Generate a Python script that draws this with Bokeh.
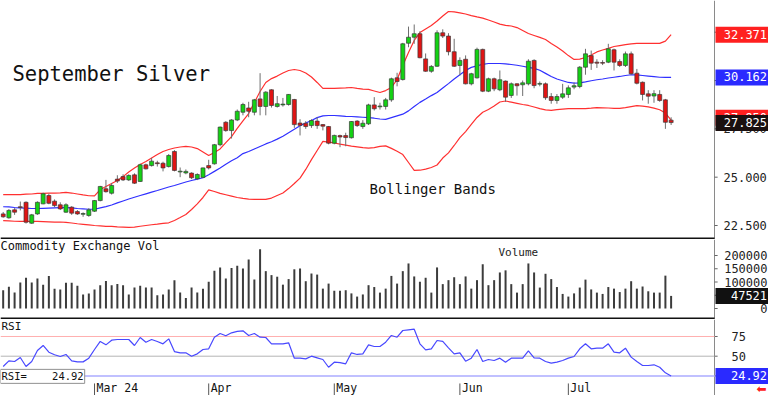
from bokeh.plotting import figure
from bokeh.models import Range1d, Label, ColumnDataSource
from bokeh.layouts import column
from bokeh.embed import file_html
from bokeh.resources import INLINE
from bokeh.core.properties import value

MONO = "DejaVu Sans Mono"
NB = "\u00a0"

# ---------------- data ----------------
price_open = [
    23.10, 22.90, 23.31, 23.47, 23.70, 22.62, 23.10, 23.62, 24.05, 23.76,
    23.57, 23.19, 23.45, 23.22, 23.08, 23.02, 23.24, 23.79, 24.40, 24.17,
    24.90, 25.03, 24.86, 25.12, 24.78, 25.64, 25.60, 25.74, 25.72, 25.55,
    26.33, 25.27, 25.22, 25.21, 24.92, 24.99, 25.60, 25.69, 26.68, 27.84,
    27.41, 27.96, 28.36, 28.58, 28.36, 29.05, 28.66, 29.52, 28.66, 28.74,
    28.76, 29.02, 27.80, 27.79, 27.67, 27.90, 27.72, 27.62, 26.76, 27.15,
    27.15, 27.04, 27.90, 27.62, 27.76, 28.74, 28.64, 28.66, 29.00, 30.14,
    30.05, 31.93, 32.24, 32.42, 31.12, 30.48, 30.74, 32.47, 32.30, 31.49,
    30.78, 31.10, 29.83, 30.14, 31.61, 29.45, 30.09, 29.52, 29.97, 29.23,
    29.83, 29.78, 29.83, 31.04, 29.81, 29.83, 29.17, 28.97, 29.14, 29.28,
    29.66, 29.69, 30.69, 31.29, 30.95, 30.93, 30.95, 31.59, 30.98, 30.78,
    31.38, 30.38, 29.91, 29.31, 29.20, 29.28, 29.00, 27.95,
]
price_high = [
    23.20, 23.35, 23.40, 23.74, 23.75, 23.10, 23.75, 24.20, 24.15, 23.85,
    23.70, 23.65, 23.50, 23.30, 23.18, 23.40, 23.82, 24.55, 24.86, 24.70,
    25.10, 25.15, 25.15, 25.20, 25.70, 25.70, 26.00, 25.85, 25.80, 26.20,
    26.40, 25.50, 25.40, 25.25, 25.20, 25.50, 25.90, 26.72, 27.62, 27.90,
    28.00, 28.50, 28.85, 28.90, 29.05, 30.38, 29.45, 29.55, 29.20, 29.10,
    29.30, 29.05, 28.00, 27.90, 28.00, 28.10, 27.75, 27.65, 27.20, 27.20,
    27.30, 27.90, 27.95, 27.95, 28.80, 29.14, 28.85, 29.10, 30.15, 30.40,
    31.95, 32.79, 32.90, 32.55, 31.40, 30.80, 32.60, 32.65, 32.45, 32.16,
    31.20, 31.30, 30.40, 31.70, 31.65, 30.15, 30.15, 30.52, 30.00, 29.90,
    29.86, 30.00, 31.10, 31.10, 29.95, 29.90, 29.35, 29.30, 29.83, 29.75,
    29.90, 30.75, 31.64, 31.55, 31.10, 31.05, 31.90, 31.65, 31.10, 31.50,
    31.50, 30.60, 29.95, 29.50, 29.50, 29.50, 29.05, 28.10,
]
price_low = [
    22.90, 22.85, 23.05, 23.28, 22.60, 22.58, 23.05, 23.60, 23.60, 23.45,
    23.30, 23.15, 23.05, 23.05, 22.95, 22.95, 23.20, 23.75, 24.20, 24.10,
    24.70, 24.80, 24.80, 24.65, 24.75, 25.40, 25.55, 25.55, 25.30, 25.50,
    25.30, 25.00, 25.15, 24.90, 24.85, 24.95, 25.40, 25.65, 26.60, 27.35,
    27.00, 27.90, 28.20, 28.10, 28.20, 28.20, 28.20, 28.60, 28.60, 28.65,
    28.70, 27.55, 27.16, 27.50, 27.55, 27.50, 27.42, 26.70, 26.70, 26.55,
    26.60, 27.00, 27.60, 27.50, 27.70, 28.45, 28.50, 28.50, 28.90, 29.70,
    30.00, 31.72, 31.90, 31.15, 30.45, 30.40, 30.70, 32.20, 31.30, 30.70,
    30.26, 29.80, 29.75, 30.10, 29.40, 29.40, 29.45, 29.45, 28.90, 29.10,
    29.22, 29.20, 29.75, 29.60, 29.70, 29.00, 28.80, 28.80, 29.05, 29.10,
    29.55, 29.60, 30.30, 30.55, 30.65, 30.80, 30.90, 30.52, 30.70, 30.70,
    30.30, 29.80, 28.97, 28.80, 28.85, 28.90, 27.50, 27.70,
]
price_close = [
    22.95, 23.28, 23.19, 23.43, 22.67, 23.05, 23.70, 24.14, 23.65, 23.53,
    23.36, 23.57, 23.14, 23.10, 23.12, 23.31, 23.79, 24.52, 24.25, 24.57,
    24.80, 24.86, 25.09, 24.69, 25.64, 25.43, 25.83, 25.70, 25.48, 26.12,
    25.35, 25.31, 25.30, 24.97, 25.14, 25.48, 25.48, 26.68, 27.59, 27.41,
    27.96, 28.41, 28.76, 28.41, 29.00, 28.66, 29.40, 28.71, 28.80, 28.78,
    29.28, 27.72, 27.68, 27.62, 27.93, 27.67, 27.64, 26.76, 27.16, 27.08,
    27.05, 27.88, 27.67, 27.79, 28.74, 28.54, 28.68, 29.00, 30.09, 29.95,
    31.90, 32.24, 32.42, 31.18, 30.48, 30.73, 32.47, 32.30, 31.49, 30.74,
    31.04, 29.83, 30.35, 31.61, 29.45, 30.09, 29.57, 30.04, 29.14, 29.83,
    29.73, 29.88, 31.00, 29.74, 29.85, 29.11, 28.97, 29.17, 29.31, 29.62,
    29.73, 30.69, 31.38, 30.90, 30.90, 30.90, 31.64, 30.95, 30.78, 31.38,
    30.35, 29.86, 29.28, 29.19, 29.32, 28.97, 27.84, 27.825,
]
bb_upper = [
    24.10, 24.10, 24.10, 24.10, 24.12, 24.13, 24.16, 24.16, 24.17, 24.18,
    24.19, 24.21, 24.18, 24.13, 24.08, 24.04, 24.03, 24.36, 24.52, 24.67,
    24.83, 25.03, 25.27, 25.47, 25.66, 25.81, 25.99, 26.17, 26.33, 26.43,
    26.51, 26.56, 26.59, 26.56, 26.48, 26.30, 26.12, 26.28, 26.46, 26.79,
    27.10, 27.52, 27.91, 28.29, 28.86, 29.43, 29.90, 30.10, 30.23, 30.39,
    30.52, 30.57, 30.52, 30.39, 30.18, 29.90, 29.59, 29.59, 29.59, 29.61,
    29.62, 29.64, 29.59, 29.56, 29.54, 29.46, 29.38, 29.48, 29.64, 30.05,
    30.78, 31.45, 32.07, 32.48, 32.67, 32.85, 33.08, 33.34, 33.57, 33.55,
    33.50, 33.44, 33.36, 33.29, 33.23, 33.13, 33.03, 32.92, 32.85, 32.82,
    32.74, 32.59, 32.43, 32.33, 32.23, 32.12, 31.92, 31.73, 31.53, 31.29,
    31.09, 31.11, 31.19, 31.32, 31.48, 31.58, 31.66, 31.76, 31.81, 31.86,
    31.90, 31.92, 31.92, 31.92, 31.92, 31.92, 32.04, 32.371,
]
bb_middle = [
    23.47, 23.46, 23.43, 23.41, 23.40, 23.38, 23.38, 23.39, 23.40, 23.41,
    23.42, 23.43, 23.41, 23.38, 23.36, 23.34, 23.34, 23.41, 23.48, 23.56,
    23.67, 23.77, 23.87, 23.96, 24.05, 24.14, 24.23, 24.31, 24.40, 24.49,
    24.57, 24.66, 24.75, 24.83, 24.90, 24.97, 25.13, 25.30, 25.48, 25.67,
    25.85, 26.01, 26.22, 26.33, 26.46, 26.59, 26.72, 26.83, 26.97, 27.12,
    27.30, 27.48, 27.66, 27.80, 27.93, 28.08, 28.17, 28.19, 28.19, 28.17,
    28.15, 28.14, 28.12, 28.10, 28.08, 28.05, 28.01, 27.99, 28.08, 28.17,
    28.26, 28.43, 28.66, 28.87, 29.04, 29.22, 29.38, 29.61, 29.84, 30.08,
    30.30, 30.52, 30.68, 30.76, 30.84, 30.88, 30.88, 30.88, 30.86, 30.83,
    30.79, 30.74, 30.68, 30.63, 30.53, 30.37, 30.21, 30.08, 29.99, 29.90,
    29.87, 29.88, 29.93, 29.99, 30.04, 30.08, 30.13, 30.17, 30.21, 30.26,
    30.30, 30.29, 30.26, 30.23, 30.20, 30.17, 30.16, 30.162,
]
bb_lower = [
    22.75, 22.74, 22.72, 22.71, 22.71, 22.71, 22.71, 22.70, 22.69, 22.68,
    22.68, 22.66, 22.63, 22.59, 22.56, 22.53, 22.50, 22.48, 22.46, 22.45,
    22.43, 22.42, 22.40, 22.42, 22.46, 22.50, 22.54, 22.57, 22.61, 22.64,
    22.76, 22.91, 23.07, 23.33, 23.62, 23.95, 24.34, 24.26, 24.16, 24.09,
    24.02, 23.95, 23.90, 23.86, 23.85, 23.85, 23.85, 23.92, 24.05, 24.18,
    24.41, 24.67, 24.95, 25.40, 25.91, 26.38, 26.85, 26.81, 26.77, 26.71,
    26.66, 26.61, 26.57, 26.53, 26.50, 26.53, 26.59, 26.62, 26.49, 26.34,
    26.17, 25.76, 25.35, 25.36, 25.42, 25.50, 25.63, 25.99, 26.26, 26.64,
    27.05, 27.36, 27.73, 28.09, 28.36, 28.50, 28.68, 28.89, 28.94, 28.88,
    28.82, 28.76, 28.71, 28.63, 28.55, 28.48, 28.46, 28.49, 28.52, 28.55,
    28.55, 28.55, 28.55, 28.57, 28.60, 28.59, 28.58, 28.56, 28.56, 28.60,
    28.65, 28.70, 28.68, 28.64, 28.57, 28.49, 28.32, 27.95,
]
volume = [
    69000, 82000, 60000, 98000, 116000, 98000, 113000, 90000, 123000, 75000,
    72000, 97000, 97000, 86000, 53000, 57000, 72000, 88000, 104000, 88000,
    92000, 88000, 53000, 79000, 86000, 79000, 79000, 50000, 53000, 72000,
    107000, 60000, 40000, 79000, 60000, 75000, 101000, 142000, 155000, 113000,
    153000, 161000, 151000, 185000, 109000, 224000, 141000, 126000, 120000, 90000,
    111000, 148000, 151000, 103000, 132000, 128000, 75000, 94000, 67000, 67000,
    69000, 57000, 45000, 53000, 88000, 81000, 60000, 75000, 123000, 94000,
    141000, 170000, 121000, 101000, 116000, 60000, 155000, 92000, 107000, 118000,
    92000, 121000, 75000, 107000, 167000, 88000, 107000, 136000, 144000, 92000,
    60000, 92000, 170000, 136000, 79000, 131000, 111000, 81000, 55000, 45000,
    57000, 79000, 109000, 72000, 60000, 55000, 81000, 75000, 62000, 75000,
    103000, 75000, 83000, 65000, 60000, 60000, 124000, 47521,
]
rsi = [
    36.9, 44.1, 43.3, 48.3, 36.9, 43.3, 57.2, 63.6, 55.1, 51.8,
    49.6, 52.2, 44.1, 42.8, 42.8, 47.5, 58.5, 68.7, 64.4, 70.3,
    71.2, 71.2, 71.2, 63.6, 73.7, 67.8, 71.2, 68.7, 65.7, 72.0,
    55.9, 54.3, 54.3, 50.0, 53.0, 58.5, 59.4, 74.1, 78.8, 75.9,
    79.7, 81.4, 82.2, 76.3, 78.8, 74.1, 73.7, 65.7, 65.7, 65.7,
    67.0, 47.5, 47.5, 46.6, 50.0, 47.9, 45.8, 36.0, 42.4, 41.9,
    40.3, 54.3, 52.2, 53.0, 64.4, 62.3, 62.3, 67.8, 76.3, 74.1,
    82.6, 83.5, 84.3, 65.7, 58.1, 59.4, 69.9, 68.7, 60.6, 53.0,
    54.3, 43.7, 47.5, 58.5, 43.3, 45.8, 44.5, 47.5, 42.4, 47.5,
    47.5, 47.5, 56.8, 47.9, 47.5, 43.3, 41.2, 42.4, 44.5, 47.5,
    49.6, 59.4, 65.7, 59.4, 60.2, 60.2, 65.7, 55.1, 54.3, 60.2,
    48.8, 43.3, 38.2, 38.2, 39.1, 36.0, 28.9, 24.92,
]
month_labels = ["Mar 24", "Apr", "May", "Jun", "Jul"]
month_index = [16, 36, 58, 80, 99]
price_ticks = [22.5, 25.0, 27.5, 30.0, 32.5]
volume_ticks = [0, 50000, 100000, 150000, 200000]
rsi_ticks = [25, 50, 75]

# ---------------- layout ----------------
W = 768
n = len(price_close)
idx = list(range(n))
X0 = -0.47          # left edge of the chart area
XA = 124.6          # position of the right-hand scale line
xr = Range1d(X0, X0 + (XA - X0) * W / 714.0)
TICK = 0.55         # tick mark length in x units


def make_fig(h, yr):
    p = figure(frame_width=W, frame_height=h, x_range=xr, y_range=yr,
               x_axis_location=None, y_axis_location=None,
               toolbar_location=None, tools="", output_backend="svg",
               min_border_left=0, min_border_right=0,
               min_border_top=0, min_border_bottom=0,
               background_fill_color="white", border_fill_color="white")
    p.grid.visible = False
    p.outline_line_color = None
    p.segment(x0=[XA], y0=[yr.start], x1=[XA], y1=[yr.end], line_color="#8a8a8a", line_width=1)
    return p


def scale(p, ticks, labels, x_off, align):
    p.segment(x0=[XA] * len(ticks), y0=ticks, x1=[XA + TICK] * len(ticks), y1=ticks,
              line_color="#666666", line_width=1)
    p.text(x=[XA] * len(ticks), y=ticks, text=labels, x_offset=x_off,
           text_font=value(MONO), text_font_size="12px", text_color="#222222",
           text_baseline="middle", text_align=align)


def hline(p, y, color, width):
    p.segment(x0=[X0], y0=[y], x1=[XA], y1=[y], line_color=color, line_width=width)


def box(p, y, text, bg, fg="white"):
    p.add_layout(Label(x=XA, y=y, x_offset=1, text=text, text_font=MONO,
                       text_font_size="12px", text_color=fg, text_baseline="middle",
                       background_fill_color=bg, padding=1))


# ---- price panel ----
pr = Range1d(21.776, 34.14)
p1 = make_fig(239, pr)
scale(p1, price_ticks, ["%.3f" % t for t in price_ticks], 9, "left")
p1.line(idx, bb_upper, line_color="#ff3030", line_width=1.2)
p1.line(idx, bb_lower, line_color="#ff3030", line_width=1.2)
p1.line(idx, bb_middle, line_color="#3030ff", line_width=1.2)

csrc = ColumnDataSource(dict(
    x=idx, l=price_low, h=price_high,
    top=[max(o, c) for o, c in zip(price_open, price_close)],
    bot=[min(o, c) for o, c in zip(price_open, price_close)],
    col=["#14d214" if c >= o else "#e01414" for o, c in zip(price_open, price_close)],
))
p1.segment(x0="x", y0="l", x1="x", y1="h", source=csrc, line_color="#6e6e6e", line_width=1)
p1.vbar(x="x", top="top", bottom="bot", width=0.7, source=csrc,
        fill_color="col", line_color="#3a3a3a", line_width=0.7)
hline(p1, 21.827, "#111111", 2)

p1.add_layout(Label(x=12, x_units="screen", y=30.36, text="September Silver",
                    text_font=MONO, text_font_size="20.5px", text_color="#111111",
                    text_baseline="middle"))
p1.add_layout(Label(x=369, x_units="screen", y=24.41, text="Bollinger Bands",
                    text_font=MONO, text_font_size="14px", text_color="#111111",
                    text_baseline="middle"))
box(p1, bb_upper[-1], NB + "%.3f" % bb_upper[-1], "#ff2020")
box(p1, bb_middle[-1], NB + "%.3f" % bb_middle[-1], "#2a2aff")
box(p1, bb_lower[-1] + 0.12, NB + "%.3f" % bb_lower[-1], "#ff2020")
box(p1, price_close[-1] - 0.02, NB + "%.3f" % price_close[-1], "#1a1010")

# ---- volume panel ----
vr = Range1d(-41500, 260400)
p2 = make_fig(80, vr)
scale(p2, volume_ticks, ["%d" % t for t in volume_ticks], 53, "right")
p2.segment(x0=idx, y0=[0] * n, x1=idx, y1=volume, line_color="#3c3c3c", line_width=2)
hline(p2, -37740, "#111111", 2)
p2.add_layout(Label(x=0, x_units="screen", y=234000, text="Commodity Exchange Vol",
                    text_font=MONO, text_font_size="12px", text_color="#111111",
                    text_baseline="middle"))
p2.add_layout(Label(x=498, x_units="screen", y=211000, text="Volume",
                    text_font=MONO, text_font_size="11px", text_color="#222222",
                    text_baseline="middle"))
box(p2, volume[-1], NB * 2 + "%d" % volume[-1], "#111111")

# ---- RSI panel (with date row) ----
rr = Range1d(0.13, 96.57)
p3 = make_fig(76, rr)
scale(p3, rsi_ticks, ["%d" % t for t in rsi_ticks], 17, "left")
hline(p3, 75, "#ffb0b0", 1)
hline(p3, 50, "#b4b4b4", 1)
hline(p3, rsi[-1], "#c0c0ff", 2)
p3.line(idx, rsi, line_color="#4848ff", line_width=1.2)
p3.segment(x0=month_index, y0=[0.13] * len(month_index), x1=month_index,
           y1=[15.4] * len(month_index), line_color="#555555", line_width=1)
p3.text(x=month_index, y=[9.2] * len(month_index), text=month_labels, x_offset=2,
        text_font=value(MONO), text_font_size="11.5px", text_color="#111111",
        text_baseline="middle", text_align="left")
p3.add_layout(Label(x=1, x_units="screen", y=87.7, text="RSI",
                    text_font=MONO, text_font_size="11px", text_color="#111111",
                    text_baseline="middle"))
p3.add_layout(Label(x=0, x_units="screen", y=24.4,
                    text="RSI=" + NB * 4 + "%.2f" % rsi[-1],
                    text_font=MONO, text_font_size="10.5px", text_color="#111111",
                    text_baseline="middle", background_fill_color="white",
                    border_line_color="#909090", padding=1))
box(p3, rsi[-1], NB * 2 + "%.2f" % rsi[-1], "#2a2aff")
p3.add_layout(Label(x=XA, y=8.4, x_offset=42, text="\u2b05", text_font="DejaVu Sans",
                    text_font_size="12px", text_color="#ff2020", text_baseline="middle"))

layout = column(p1, p2, p3, spacing=0)
open("out.html", "w").write(file_html(layout, INLINE))
